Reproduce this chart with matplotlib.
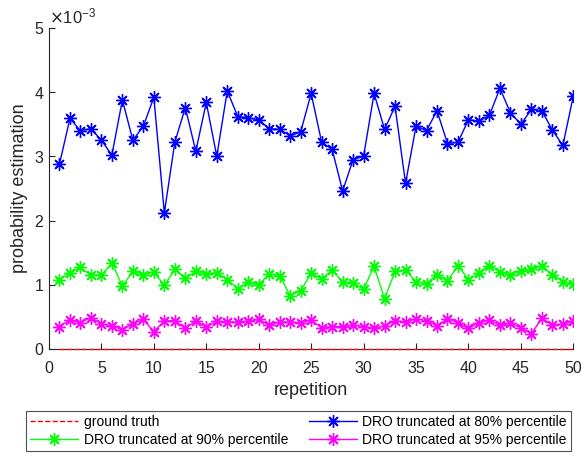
import matplotlib
matplotlib.use("Agg")
import matplotlib.pyplot as plt
import numpy as np
from matplotlib.ticker import ScalarFormatter

plt.rcParams["font.family"] = ["Liberation Sans", "DejaVu Sans"]

repetition = np.arange(1, 51)

# values in units of 1e-3
dro_80 = [2.88, 3.59, 3.40, 3.43, 3.25, 3.02, 3.88, 3.25, 3.47, 3.92,
          2.12, 3.22, 3.76, 3.08, 3.84, 3.00, 4.02, 3.62, 3.60, 3.57,
          3.43, 3.42, 3.32, 3.38, 3.98, 3.22, 3.11, 2.46, 2.95, 3.00,
          3.98, 3.42, 3.78, 2.58, 3.47, 3.40, 3.71, 3.20, 3.22, 3.57,
          3.55, 3.64, 4.06, 3.68, 3.50, 3.73, 3.71, 3.41, 3.17, 3.94]
dro_90 = [1.08, 1.19, 1.27, 1.15, 1.15, 1.34, 0.98, 1.21, 1.15, 1.20,
          0.99, 1.24, 1.10, 1.21, 1.17, 1.19, 1.08, 0.94, 1.04, 1.00,
          1.17, 1.14, 0.83, 0.91, 1.18, 1.09, 1.23, 1.04, 1.03, 0.93,
          1.29, 0.78, 1.21, 1.23, 1.05, 1.02, 1.16, 1.06, 1.30, 1.08,
          1.19, 1.30, 1.20, 1.15, 1.21, 1.25, 1.29, 1.16, 1.05, 1.01]
dro_95 = [0.35, 0.45, 0.41, 0.49, 0.39, 0.36, 0.30, 0.39, 0.46, 0.27,
          0.44, 0.44, 0.32, 0.44, 0.34, 0.43, 0.42, 0.42, 0.43, 0.46,
          0.37, 0.42, 0.42, 0.41, 0.45, 0.33, 0.35, 0.35, 0.37, 0.35,
          0.32, 0.36, 0.44, 0.42, 0.47, 0.44, 0.36, 0.47, 0.41, 0.32,
          0.41, 0.45, 0.37, 0.40, 0.33, 0.24, 0.48, 0.37, 0.39, 0.43]
ground_truth = [0.0] * 50

scale = 1e-3
star = (8, 2, 0)  # MATLAB-style asterisk

fig = plt.figure(figsize=(5.81, 4.58), dpi=100)
ax = fig.add_axes([0.0843, 0.238, 0.9025, 0.701])

ax.plot(repetition, np.array(ground_truth) * scale, "--", color="red",
        lw=1, label="ground truth", clip_on=False, zorder=5)
ax.plot(repetition, np.array(dro_90) * scale, "-", marker=star, color=(0, 1, 0),
        lw=1, ms=9, mew=1, label="DRO truncated at 90% percentile")
ax.plot(repetition, np.array(dro_80) * scale, "-", marker=star, color="blue",
        lw=1, ms=9, mew=1, label="DRO truncated at 80% percentile")
ax.plot(repetition, np.array(dro_95) * scale, "-", marker=star, color="magenta",
        lw=1, ms=9, mew=1, label="DRO truncated at 95% percentile")

ax.set_xlim(0, 50)
ax.set_ylim(0, 5e-3)
ax.set_xticks(range(0, 51, 5))
ax.set_yticks(np.arange(0, 6) * scale)

fmt = ScalarFormatter(useMathText=True)
fmt.set_powerlimits((-2, 2))
ax.yaxis.set_major_formatter(fmt)
ax.yaxis.get_offset_text().set_fontsize(12)

ax.spines["top"].set_visible(False)
ax.spines["right"].set_visible(False)
for s in ("left", "bottom"):
    ax.spines[s].set_color("#262626")
    ax.spines[s].set_linewidth(0.8)
ax.tick_params(direction="in", labelsize=11.5, colors="#262626", length=4)
ax.tick_params(axis="x", pad=9)

ax.set_xlabel("repetition", fontsize=13, color="#262626", labelpad=4)
ax.set_ylabel("probability estimation", fontsize=13, color="#262626")

leg = fig.legend(ncol=2, loc="lower center", bbox_to_anchor=(0.514, 0.0),
                 fontsize=10, frameon=True, fancybox=False,
                 edgecolor="#262626", handlelength=3.45, columnspacing=1.5,
                 borderpad=0.3, labelspacing=0.3, handletextpad=0.4)
leg.get_frame().set_linewidth(0.8)

fig.savefig("out.png", dpi=100)
